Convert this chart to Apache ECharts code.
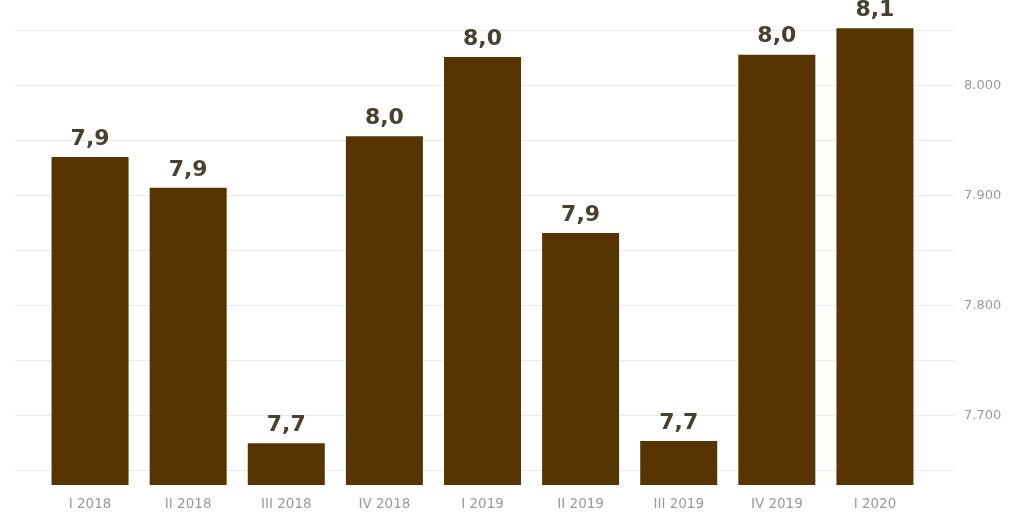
<!DOCTYPE html>
<html>
<head>
<meta charset="utf-8">
<script src="https://cdn.jsdelivr.net/npm/echarts@6/dist/echarts.min.js"></script>
<style>
html,body{margin:0;padding:0;background:#fff;}
#chart{width:1013px;height:512px;}
</style>
</head>
<body>
<div id="chart"></div>
<script>
const categories = ['I 2018','II 2018','III 2018','IV 2018','I 2019','II 2019','III 2019','IV 2019','I 2020'];
const values = [7935, 7907, 7675, 7954, 8026, 7866, 7677, 8028, 8052];
const yTickValues = [7700, 7800, 7900, 8000];
const yMin = 7637;
const yMax = 8055;

function thousands(v){ return String(v).replace(/\B(?=(\d{3})+$)/g, '.'); }

const chart = echarts.init(document.getElementById('chart'), null, {renderer:'canvas'});
chart.setOption({
  backgroundColor:'#ffffff',
  animation:false,
  grid:[
    {left:15, right:58, top:25, bottom:27},
    {left:41, right:89, top:25, bottom:27}
  ],
  xAxis:[
    {gridIndex:0, type:'category', data:categories, show:false},
    {gridIndex:1, type:'category', data:categories,
     axisLine:{show:false}, axisTick:{show:false},
     axisLabel:{color:'#9a9a9a', fontFamily:'DejaVu Sans', fontSize:13.5, margin:12}}
  ],
  yAxis:[
    {gridIndex:0, type:'value', position:'right', min:yMin, max:yMax, splitNumber:8,
     axisLine:{show:false}, axisTick:{show:false},
     splitLine:{show:true, showMinLine:false, showMaxLine:false, lineStyle:{color:'#ebebeb', width:1}},
     axisLabel:{color:'#999999', fontFamily:'DejaVu Sans', fontSize:13, margin:9, padding:[4,0,0,0],
       formatter:function(v){ return yTickValues.indexOf(v) >= 0 ? thousands(v) : ''; }}},
    {gridIndex:1, type:'value', min:yMin, max:yMax, show:false, splitLine:{show:false}}
  ],
  series:[{
    type:'bar', xAxisIndex:1, yAxisIndex:1, data:values, barWidth:77,
    itemStyle:{color:'#563500'},
    label:{show:true, position:'top', distance:7, color:'#4a4030',
      fontFamily:'DejaVu Sans', fontWeight:'bold', fontSize:22,
      formatter:function(p){ return (p.value/1000).toFixed(1).replace('.', ','); }}
  }]
});
</script>
</body>
</html>
